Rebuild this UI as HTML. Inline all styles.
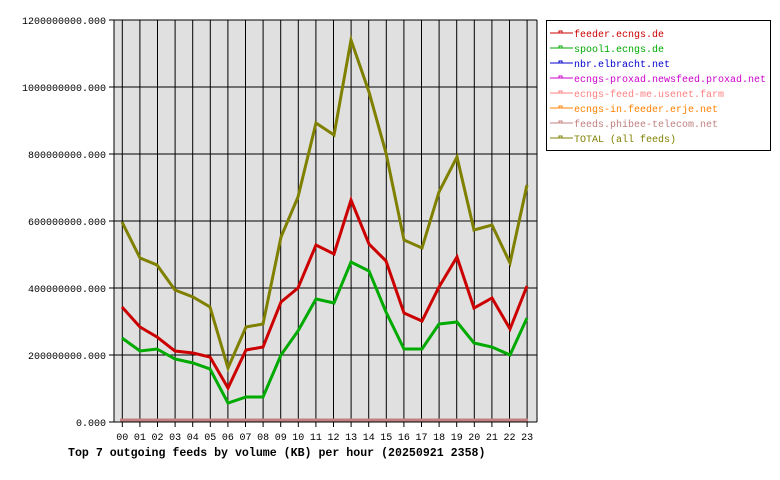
<!DOCTYPE html><html><head><style>body{margin:0;background:#fff}svg{display:block}text{font-family:"Liberation Mono","DejaVu Sans Mono",monospace;font-size:10px}</style></head><body>
<svg width="780" height="480" xmlns="http://www.w3.org/2000/svg">
<rect x="114" y="20" width="423" height="402" fill="#e0e0e0"/>
<g stroke="#000" stroke-width="1">
<line x1="114" y1="20" x2="537" y2="20"/><line x1="114" y1="87" x2="537" y2="87"/><line x1="114" y1="154" x2="537" y2="154"/><line x1="114" y1="221" x2="537" y2="221"/><line x1="114" y1="288" x2="537" y2="288"/><line x1="114" y1="355" x2="537" y2="355"/><line x1="109" y1="422" x2="537" y2="422"/>
<line x1="109" y1="20" x2="114" y2="20"/><line x1="109" y1="87" x2="114" y2="87"/><line x1="109" y1="154" x2="114" y2="154"/><line x1="109" y1="221" x2="114" y2="221"/><line x1="109" y1="288" x2="114" y2="288"/><line x1="109" y1="355" x2="114" y2="355"/>
<line x1="114" y1="20" x2="114" y2="422"/><line x1="537" y1="20" x2="537" y2="422"/>
</g>
<g id="v" stroke="#000"></g>
<g text-anchor="end" fill="#000"><text x="106" y="24">1200000000.000</text><text x="106" y="91">1000000000.000</text><text x="106" y="158">800000000.000</text><text x="106" y="225">600000000.000</text><text x="106" y="292">400000000.000</text><text x="106" y="359">200000000.000</text><text x="106" y="426">0.000</text></g>
<g id="xl" text-anchor="middle"></g>
<line x1="120" y1="420" x2="528" y2="420" stroke="#c08080" stroke-width="3"/>
<polyline fill="none" stroke="#808000" stroke-width="3" points="122,222 140,258 157,265 175,290 193,297 210,307 228,368 246,327 263,324 281,237 298,197 316,123 334,135 351,40 369,92 386,153 404,240 422,248 439,192 457,157 474,230 492,225 510,263 527,185"/>
<polyline fill="none" stroke="#cc0000" stroke-width="3" points="122,307 140,327 157,337 175,351 193,353 210,357 228,388 246,350 263,347 281,302 298,288 316,245 334,254 351,200 369,244 386,261 404,313 422,321 439,287 457,257 474,308 492,298 510,329 527,286"/>
<polyline fill="none" stroke="#00aa00" stroke-width="3" points="122,338 140,351 157,349 175,359 193,363 210,369 228,403 246,397 263,397 281,355 298,331 316,299 334,303 351,262 369,271 386,312 404,349 422,349 439,324 457,322 474,343 492,347 510,355 527,318"/>
<text x="68" y="456" style="font-weight:bold;font-size:11.6px">Top 7 outgoing feeds by volume (KB) per hour (20250921 2358)</text>
<rect x="546.5" y="20.5" width="224" height="130" fill="#fff" stroke="#000"/>
<g id="lg"></g>
</svg>
<script>
var v=document.getElementById('v'),xl=document.getElementById('xl'),s='';var t='';
for(var i=0;i<24;i++){var x=122.3+17.6*i;s+='<line x1="'+x+'" y1="20" x2="'+x+'" y2="427"/>';t+='<text x="'+x+'" y="440">'+(i<10?'0':'')+i+'</text>';}
v.innerHTML=s;xl.innerHTML=t;
var L=[["feeder.ecngs.de","#cc0000"],["spool1.ecngs.de","#00aa00"],["nbr.elbracht.net","#0000cc"],["ecngs-proxad.newsfeed.proxad.net","#cc00cc"],["ecngs-feed-me.usenet.farm","#ff8080"],["ecngs-in.feeder.erje.net","#ff8000"],["feeds.phibee-telecom.net","#c08080"],["TOTAL (all feeds)","#808000"]];
var g='';L.forEach(function(e,k){var y=33+15*k;g+='<line x1="550" y1="'+y+'" x2="573" y2="'+y+'" stroke="'+e[1]+'"/><rect x="559" y="'+(y-2)+'" width="3" height="2" fill="none" stroke="'+e[1]+'" stroke-width="1"/><text x="574" y="'+(y+4)+'" fill="'+e[1]+'">'+e[0]+'</text>';});
document.getElementById('lg').innerHTML=g;
</script>
</body></html>
